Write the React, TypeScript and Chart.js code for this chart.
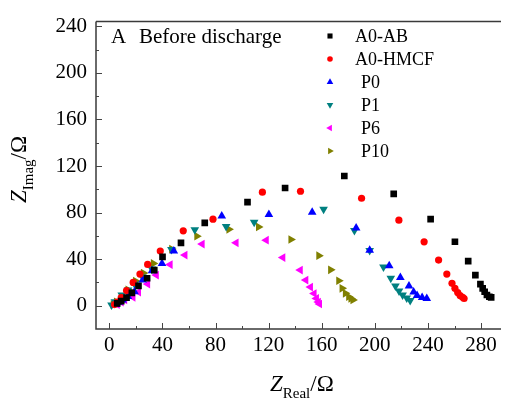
import { useEffect, useRef } from 'react';
import { Chart, registerables } from 'chart.js';
import { drawPoint } from 'chart.js/helpers';

Chart.register(...registerables);

const seriesNames = ['A0-AB', 'A0-HMCF', 'P0', 'P1', 'P6', 'P10'];

const seriesA0AB: [number, number][] = [
  [6, 2], [9, 4], [13, 7], [17, 11], [22, 17], [28.5, 23.6], [33.9, 30.6], [40.1, 42.0],
  [54.0, 54.0], [71.9, 71.1], [104.1, 88.9], [132.4, 101.1], [177.0, 111.4], [214.2, 96.0],
  [242.0, 74.3], [260.3, 54.9], [270.3, 38.3], [275.7, 26.3], [279.5, 18.6], [281.2, 14.9],
  [282.7, 12.0], [284.4, 9.2], [286.2, 7.7], [287.6, 7.2],
];
const seriesA0HMCF: [number, number][] = [
  [4, 1], [6, 3], [9, 7], [13, 13], [18, 20], [23.1, 27.2], [28.9, 35.5], [38.4, 46.9],
  [55.7, 64.3], [78.1, 74.3], [115.3, 97.5], [144.0, 98.3], [190.0, 92.3], [218.1, 73.5],
  [237.1, 54.9], [248.0, 39.2], [254.2, 27.2], [258.1, 19.2], [260.3, 14.9], [262.4, 11.3],
  [264.2, 8.7], [266.1, 7.2], [267.2, 6.2],
];
const seriesP0: [number, number][] = [
  [5, 1], [7, 3], [10, 5], [14, 8], [19.0, 12.0], [25.2, 22.0], [32.2, 30.0], [39.7, 36.3],
  [48.6, 46.9], [84.7, 77.1], [120.2, 78.3], [152.8, 80.3], [185.9, 66.8], [196.1, 47.7],
  [210.8, 34.3], [219.2, 24.3], [225.7, 16.9], [229.2, 11.7], [231.8, 8.7], [235.6, 7.0],
  [239.1, 6.3],
];
const seriesP1: [number, number][] = [
  [1.7, 0.6], [4.2, 3.4], [9.4, 9.2], [14.1, 13.5], [19.0, 18.6], [25.0, 24.6], [32.1, 31.6],
  [46.8, 48.3], [64.4, 65.3], [88.0, 68.1], [109.1, 71.7], [161.4, 82.9], [184.6, 64.6],
  [196.1, 47.5], [206.5, 33.2], [212.0, 23.5], [215.5, 16.9], [218.2, 12.6], [220.9, 9.2],
  [224.0, 6.6], [226.6, 4.5],
];
const seriesP6: [number, number][] = [
  [6, 1], [9, 3], [11.6, 4.9], [17.8, 7.2], [22.0, 11.7], [28.9, 18.6], [35.4, 26.3],
  [45.8, 35.3], [57.0, 43.5], [69.9, 52.9], [95.5, 54.0], [118.2, 56.3], [130.7, 41.3],
  [143.8, 30.6], [148.0, 22.0], [151.5, 16.0], [154.2, 10.5], [156.0, 6.3], [157.4, 3.2],
  [158.3, 1.5],
];
const seriesP10: [number, number][] = [
  [3, 1], [5.4, 3.4], [9.2, 7.5], [14.1, 13.7], [19.8, 21.2], [25.7, 28.0], [33.2, 36.3],
  [47.0, 48.6], [65.9, 59.7], [90.1, 65.6], [112.4, 67.7], [136.8, 56.9], [157.8, 43.0],
  [166.7, 30.8], [172.8, 21.4], [175.3, 14.9], [177.8, 10.6], [180.3, 7.7], [182.0, 6.2],
  [183.5, 4.9],
];

const allSeries = [seriesA0AB, seriesA0HMCF, seriesP0, seriesP1, seriesP6, seriesP10];

const xTicks = [0, 40, 80, 120, 160, 200, 240, 280];
const yTicks = [0, 40, 80, 120, 160, 200, 240];
const xMinorTicks = [20, 60, 100, 140, 180, 220, 260];
const yMinorTicks = [20, 60, 100, 140, 180, 220];

const panelLabel = 'A';
const panelTitle = 'Before discharge';

const markerStyles = [
  { color: '#000000', pointStyle: 'rect', rotation: 0, radius: 4.7, legendRadius: 3.6 },
  { color: '#ff0000', pointStyle: 'circle', rotation: 0, radius: 3.6, legendRadius: 2.8 },
  { color: '#0000ff', pointStyle: 'triangle', rotation: 0, radius: 5, legendRadius: 3.8 },
  { color: '#008080', pointStyle: 'triangle', rotation: 180, radius: 5, legendRadius: 3.8 },
  { color: '#ff00ff', pointStyle: 'triangle', rotation: 270, radius: 5, legendRadius: 3.8 },
  { color: '#808000', pointStyle: 'triangle', rotation: 90, radius: 5, legendRadius: 3.8 },
];

const SERIF = '"Liberation Serif", "Times New Roman", serif';

const decorPlugin = {
  id: 'decor',
  afterDraw(chart: any) {
    const ctx: CanvasRenderingContext2D = chart.ctx;
    const { left, right, top, bottom } = chart.chartArea;
    const xs = chart.scales.x;
    const ys = chart.scales.y;
    ctx.save();
    // frame
    ctx.strokeStyle = '#3a3a3a';
    ctx.lineWidth = 1.5;
    ctx.beginPath();
    ctx.moveTo(left, top);
    ctx.lineTo(right, top);
    ctx.moveTo(left, top);
    ctx.lineTo(left, bottom);
    ctx.lineTo(right, bottom);
    ctx.stroke();
    // ticks (inward)
    ctx.lineWidth = 1;
    ctx.strokeStyle = '#444';
    ctx.beginPath();
    xTicks.forEach((v) => {
      const p = Math.round(xs.getPixelForValue(v)) + 0.5;
      ctx.moveTo(p, bottom);
      ctx.lineTo(p, bottom - 6);
    });
    xMinorTicks.forEach((v) => {
      const p = Math.round(xs.getPixelForValue(v)) + 0.5;
      ctx.moveTo(p, bottom);
      ctx.lineTo(p, bottom - 3);
    });
    yTicks.forEach((v) => {
      const p = Math.round(ys.getPixelForValue(v)) + 0.5;
      ctx.moveTo(left, p);
      ctx.lineTo(left + 6, p);
    });
    yMinorTicks.forEach((v) => {
      const p = Math.round(ys.getPixelForValue(v)) + 0.5;
      ctx.moveTo(left, p);
      ctx.lineTo(left + 3, p);
    });
    ctx.stroke();

    // panel title
    ctx.fillStyle = '#000';
    ctx.textBaseline = 'alphabetic';
    ctx.textAlign = 'left';
    ctx.font = `21px ${SERIF}`;
    ctx.fillText(panelLabel, 111, 43);
    ctx.fillText(panelTitle, 139, 43);

    // legend
    ctx.font = `18px ${SERIF}`;
    ctx.textBaseline = 'middle';
    seriesNames.forEach((name, i) => {
      const st = markerStyles[i];
      const yy = 36 + i * 23;
      ctx.fillStyle = st.color;
      drawPoint(ctx, { pointStyle: st.pointStyle as any, rotation: st.rotation, radius: st.legendRadius, borderWidth: 0 }, 330, yy);
      ctx.fillStyle = '#000';
      ctx.fillText(name, i < 2 ? 355 : 361, yy + 1);
    });

    // axis titles
    ctx.textBaseline = 'alphabetic';
    const drawTitle = (main: string, sub: string, tail: string) => {
      let x = 0;
      ctx.font = `italic 23px ${SERIF}`;
      ctx.fillText(main, x, 0);
      x += ctx.measureText(main).width;
      ctx.font = `15px ${SERIF}`;
      ctx.fillText(sub, x, 7);
      x += ctx.measureText(sub).width;
      ctx.font = `23px ${SERIF}`;
      ctx.fillText(tail, x, 0);
    };
    ctx.save();
    ctx.translate(270, 391);
    drawTitle('Z', 'Real', '/\u03a9');
    ctx.restore();
    ctx.save();
    ctx.translate(26, 203);
    ctx.rotate(-Math.PI / 2);
    drawTitle('Z', 'Imag', '/\u03a9');
    ctx.restore();

    ctx.restore();
  },
};

export default function App() {
  const canvasRef = useRef<HTMLCanvasElement | null>(null);

  useEffect(() => {
    if (!canvasRef.current) return;
    const chart = new Chart(canvasRef.current, {
      type: 'scatter',
      data: {
        datasets: allSeries.map((s, i) => ({
          label: seriesNames[i],
          data: s.map(([x, y]) => ({ x, y })),
          pointStyle: markerStyles[i].pointStyle as any,
          rotation: markerStyles[i].rotation,
          pointRadius: markerStyles[i].radius,
          pointHoverRadius: markerStyles[i].radius,
          backgroundColor: markerStyles[i].color,
          borderColor: markerStyles[i].color,
          pointBorderWidth: 0,
          showLine: false,
        })),
      },
      options: {
        animation: false,
        responsive: false,
        events: [],
        layout: { padding: { top: 21, left: 0, right: 0, bottom: 0 } },
        plugins: {
          legend: { display: false },
          title: { display: false },
          tooltip: { enabled: false },
        },
        scales: {
          x: {
            type: 'linear',
            min: -10,
            max: 295,
            grid: { display: false, drawTicks: false },
            border: { display: false },
            afterBuildTicks: (scale: any) => {
              scale.ticks = xTicks.map((v) => ({ value: v }));
            },
            afterFit: (scale: any) => {
              scale.height = 71;
            },
            ticks: {
              padding: 4,
              color: '#000',
              font: { family: SERIF, size: 21 },
              maxRotation: 0,
            },
          },
          y: {
            type: 'linear',
            min: -20,
            max: 244,
            grid: { display: false, drawTicks: false },
            border: { display: false },
            afterBuildTicks: (scale: any) => {
              scale.ticks = yTicks.map((v) => ({ value: v }));
            },
            afterFit: (scale: any) => {
              scale.width = 96;
            },
            ticks: {
              padding: 9,
              color: '#000',
              font: { family: SERIF, size: 21 },
            },
          },
        },
      },
      plugins: [decorPlugin],
    });
    return () => chart.destroy();
  }, []);

  return (
    <div style={{ position: 'absolute', left: 0, top: 0, width: 506, height: 400, background: '#fff' }}>
      <canvas ref={canvasRef} width={506} height={400} />
    </div>
  );
}
